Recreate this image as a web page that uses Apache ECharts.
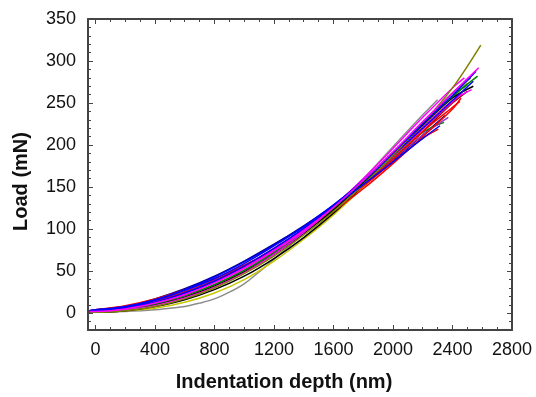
<!DOCTYPE html>
<html>
<head>
<meta charset="utf-8">
<script src="https://cdn.jsdelivr.net/npm/echarts@6/dist/echarts.min.js"></script>
<style>html,body{margin:0;padding:0;background:#fff}#c{width:536px;height:397px}</style>
</head>
<body>
<div id="c"></div>
<script>
// ---- tick values ----
const xTicks = [0, 400, 800, 1200, 1600, 2000, 2400, 2800];
const xMinorTicks = [0,100,200,300,400,500,600,700,800,900,1000,1100,1200,1300,1400,1500,1600,1700,1800,1900,2000,2100,2200,2300,2400,2500,2600,2700,2800];
const yTicks = [0, 50, 100, 150, 200, 250, 300, 350];
const yMinorTicks = [-10,0,10,20,30,40,50,60,70,80,90,100,110,120,130,140,150,160,170,180,190,200,210,220,230,240,250,260,270,280,290,300,310,320,330,340,350];

// ---- curves: indentation depth (nm) and load (mN) ----
const gray_depth   = [-40,0,200,400,500,600,700,800,900,1000,1100,1200,1400,1600,1800,2000,2200,2300];
const gray_load    = [1,1,2,4,6,8,12,17,25,35,49,64,95,127,160,198,236,254];
const yellow_depth = [-40,0,200,400,600,800,1000,1200,1400,1600,1800,2000,2200,2400,2500];
const yellow_load  = [1,1,3,6,13,24,40,62,88,117,150,185,222,257,274];
const black2_depth = [-40,0,200,400,600,800,1000,1200,1400,1600,1800,2000,2200,2400,2520];
const black2_load  = [1,1,3,8,16,28,44,65,90,119,152,188,226,262,280];
const wine_depth   = [-40,0,200,400,600,800,1000,1200,1400,1600,1800,2000,2200,2400,2500];
const wine_load    = [2,3,6,13,23,37,54,74,97,123,152,183,216,250,264];
const green3_depth = [-40,0,200,400,600,800,1000,1200,1400,1600,1800,2000,2200,2400,2500];
const green3_load  = [2,2,5,11,21,34,51,72,96,123,154,188,224,258,272];
const pink_depth   = [-40,0,200,400,600,800,1000,1200,1400,1600,1800,2000,2200,2400,2460];
const pink_load    = [2,3,7,14,25,39,56,77,100,126,155,186,219,251,262];
const navy_depth   = [-40,0,200,400,600,800,1000,1200,1400,1600,1800,2000,2200,2350];
const navy_load    = [3,4,8,17,29,44,62,82,104,128,154,182,212,235];
const red3_depth   = [-40,0,200,400,600,800,1000,1200,1400,1600,1800,2000,2200,2305];
const red3_load    = [2,3,7,14,25,39,56,76,99,124,151,180,208,219];
const green2_depth = [-40,0,200,400,600,800,1000,1200,1400,1600,1800,2000,2200,2343];
const green2_load  = [2,3,6,13,24,38,55,76,100,126,154,184,215,227];
const purple_depth = [-40,0,200,400,600,800,1000,1200,1400,1600,1800,2000,2200,2372];
const purple_load  = [2,2,6,13,24,38,55,76,99,125,153,183,212,233];
const red2_depth   = [-40,0,200,400,600,800,1000,1200,1400,1600,1800,2000,2200,2400,2450];
const red2_load    = [3,3,8,15,25,38,55,75,98,124,152,183,216,245,252];
const red_depth    = [-40,0,200,400,600,800,1000,1200,1400,1600,1800,2000,2200,2400,2457];
const red_load     = [3,4,9,17,28,41,57,76,97,121,148,178,210,243,256];
const magenta2_depth = [-40,0,200,400,600,800,1000,1200,1400,1600,1800,2000,2200,2400,2529];
const magenta2_load  = [2,2,5,12,23,37,54,75,99,126,156,188,221,253,266];
const black_depth  = [-40,0,200,400,600,800,1000,1200,1400,1600,1800,2000,2200,2400,2540];
const black_load   = [1,2,4,10,19,32,49,70,95,123,155,189,224,256,270];
const blue2_depth  = [-40,0,200,400,600,800,1000,1200,1400,1600,1800,2000,2200,2400,2540];
const blue2_load   = [2,3,7,15,27,41,59,80,103,129,157,188,220,253,276];
const green_depth  = [-40,0,200,400,600,800,1000,1200,1400,1600,1800,2000,2200,2400,2569];
const green_load   = [2,2,5,11,21,34,51,72,97,125,157,191,226,258,282];
const magenta3_depth = [-40,0,200,400,600,800,1000,1200,1400,1600,1800,2000,2200,2400,2480];
const magenta3_load  = [2,2,4,9,18,31,48,70,96,126,160,196,233,268,280];
const olive_depth  = [-40,0,200,400,600,800,1000,1200,1400,1600,1800,2000,2200,2400,2590];
const olive_load   = [1,1,3,8,17,30,47,68,93,121,153,188,226,268,319];
const blue3_depth  = [-40,0,200,400,600,800,1000,1200,1400,1600,1800,2000,2200,2316];
const blue3_load   = [3,4,8,16,28,43,61,81,103,127,153,180,208,223];
const blue_depth   = [-40,0,200,400,600,800,1000,1200,1400,1600,1800,2000,2200,2400,2558];
const blue_load    = [2,3,6,13,24,38,56,77,101,128,158,191,225,259,288];
const magenta_depth = [-40,0,200,400,600,800,1000,1200,1400,1600,1800,2000,2200,2400,2576];
const magenta_load  = [2,2,5,12,22,36,53,74,98,126,158,192,228,262,292];

const curves = [
  [gray_depth, gray_load, '#8c8c8c'],
  [yellow_depth, yellow_load, '#c8c800'],
  [black2_depth, black2_load, '#000000'],
  [wine_depth, wine_load, '#800000'],
  [green3_depth, green3_load, '#008000'],
  [pink_depth, pink_load, '#ff0080'],
  [navy_depth, navy_load, '#000080'],
  [red3_depth, red3_load, '#ff0000'],
  [green2_depth, green2_load, '#008000'],
  [purple_depth, purple_load, '#9933cc'],
  [red2_depth, red2_load, '#ff0000'],
  [red_depth, red_load, '#ff0000'],
  [magenta2_depth, magenta2_load, '#ff00ff'],
  [black_depth, black_load, '#000000'],
  [blue2_depth, blue2_load, '#0000ff'],
  [green_depth, green_load, '#008000'],
  [magenta3_depth, magenta3_load, '#ff00ff'],
  [olive_depth, olive_load, '#808000'],
  [blue3_depth, blue3_load, '#0000ff'],
  [blue_depth, blue_load, '#0000ff'],
  [magenta_depth, magenta_load, '#ff00ff']
];

const FONT = 'Liberation Sans, Arial, sans-serif';
const frameColor = '#444444';
const plain = function (v) { return String(v); };

function xAx(pos, ticks, len, lineShow, labels, extra) {
  return Object.assign({
    type: 'value', position: pos, min: -50, max: 2800,
    axisLine: {show: lineShow, onZero: false, lineStyle: {color: frameColor, width: 2}},
    axisTick: {show: true, inside: true, length: len, customValues: ticks, lineStyle: {color: frameColor, width: 1}},
    axisLabel: labels ? {show: true, customValues: ticks, formatter: plain, margin: 11, color: '#111', fontSize: 18, fontFamily: FONT} : {show: false},
    splitLine: {show: false}
  }, extra || {});
}
function yAx(pos, ticks, len, lineShow, labels, extra) {
  return Object.assign({
    type: 'value', position: pos, min: -20, max: 350,
    axisLine: {show: lineShow, onZero: false, lineStyle: {color: frameColor, width: 2}},
    axisTick: {show: true, inside: true, length: len, customValues: ticks, lineStyle: {color: frameColor, width: 1}},
    axisLabel: labels ? {show: true, customValues: ticks, formatter: plain, margin: 12, color: '#111', fontSize: 18, fontFamily: FONT} : {show: false},
    splitLine: {show: false}
  }, extra || {});
}

const chart = echarts.init(document.getElementById('c'), null, {renderer: 'canvas'});
chart.setOption({
  animation: false,
  backgroundColor: '#ffffff',
  grid: {left: 88, right: 24, top: 19, bottom: 65, containLabel: false},
  xAxis: [
    xAx('bottom', xTicks, 5, true, true, {
      name: 'Indentation depth (nm)', nameLocation: 'middle', nameGap: 42,
      nameTextStyle: {fontSize: 20, fontWeight: 'bold', color: '#111', fontFamily: FONT, padding: [0, 32, 0, 0]}
    }),
    xAx('bottom', xMinorTicks, 3, false, false),
    xAx('top', xTicks, 5, true, false),
    xAx('top', xMinorTicks, 3, false, false)
  ],
  yAxis: [
    yAx('left', yTicks, 5, true, true, {
      name: 'Load (mN)', nameLocation: 'middle', nameGap: 57,
      nameTextStyle: {fontSize: 20, fontWeight: 'bold', color: '#111', fontFamily: FONT, padding: [0, 14, 0, 0]}
    }),
    yAx('left', yMinorTicks, 3, false, false),
    yAx('right', yTicks, 5, true, false),
    yAx('right', yMinorTicks, 3, false, false)
  ],
  series: curves.map(function (c, i) {
    return {
      type: 'line', xAxisIndex: 0, yAxisIndex: 0,
      data: c[0].map(function (d, j) { return [d, c[1][j]]; }),
      smooth: 0.35, showSymbol: false, symbol: 'none',
      lineStyle: {color: c[2], width: 1.5},
      z: 2 + i
    };
  })
});
</script>
</body>
</html>
